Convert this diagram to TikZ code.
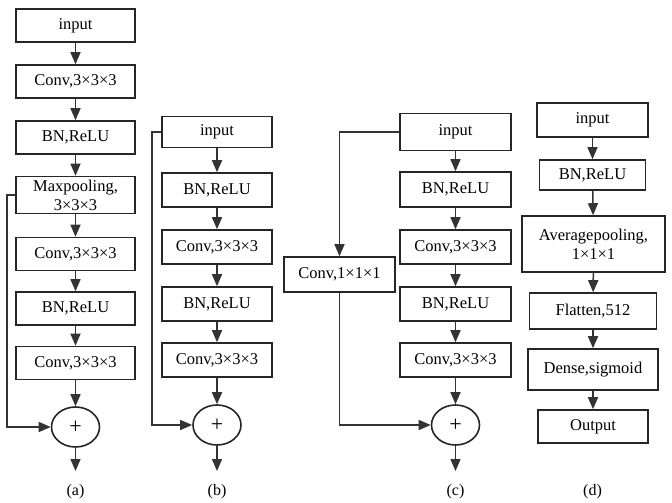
\documentclass[tikz,border=0pt]{standalone}
\usepackage{fontspec}
\setmainfont{Liberation Serif}
\usetikzlibrary{arrows.meta,shapes.geometric}
\begin{document}
\begin{tikzpicture}[x=1pt,y=-1pt,
  box/.style={draw=black!85, line width=1.6pt, inner sep=0pt, align=center,
    font=\fontsize{16.5}{19}\selectfont, minimum height=#1},
  box/.default=33pt,
  plus/.style={draw=black!85, line width=1.6pt, ellipse, inner sep=0pt,
    minimum width=48pt, minimum height=40pt, font=\fontsize{22}{24}\selectfont},
  arr/.style={draw=black!80, line width=1.5pt, -{Triangle[length=12pt,width=10pt]}},
  lab/.style={font=\fontsize{16}{18}\selectfont}]
\useasboundingbox (0,0) rectangle (672,503);
% ---------- (a)
\begin{scope}[every node/.append style={minimum width=119pt}]
\node[box] (ain) at (75.5,25.5) {input};
\node[box] (ac1) at (75.5,81.5) {Conv,3×3×3};
\node[box] (abn1) at (75.5,137.5) {BN,ReLU};
\node[box=37pt] (amp) at (75.5,195) {Maxpooling,\\3×3×3};
\node[box] (ac2) at (75.5,254) {Conv,3×3×3};
\node[box] (abn2) at (75.5,308.5) {BN,ReLU};
\node[box] (ac3) at (75.5,363) {Conv,3×3×3};
\end{scope}
\node[plus] (pa) at (75.5,427) {+};
\coordinate (oa) at (75.5,471);
\node[lab] (la) at (75.5,492) {(a)};
\draw[arr] (ain) -- (ac1);
\draw[arr] (ac1) -- (abn1);
\draw[arr] (abn1) -- (amp);
\draw[arr] (amp) -- (ac2);
\draw[arr] (ac2) -- (abn2);
\draw[arr] (abn2) -- (ac3);
\draw[arr] (ac3) -- (pa);
\draw[arr] (pa) -- (oa);
\draw[arr] (amp.west) -- ++(-8,0) |- (pa);
% ---------- (b)
\begin{scope}[every node/.append style={minimum width=110pt}]
\node[box=31pt] (bin) at (217,132) {input};
\node[box=34pt] (bbn1) at (217,190) {BN,ReLU};
\node[box=34pt] (bc1) at (217,247) {Conv,3×3×3};
\node[box=34pt] (bbn2) at (217,304) {BN,ReLU};
\node[box=34pt] (bc2) at (217,360) {Conv,3×3×3};
\end{scope}
\node[plus] (pb) at (217,425) {+};
\coordinate (ob) at (217,471);
\node[lab] (lb) at (217,492) {(b)};
\draw[arr] (bin) -- (bbn1);
\draw[arr] (bbn1) -- (bc1);
\draw[arr] (bc1) -- (bbn2);
\draw[arr] (bbn2) -- (bc2);
\draw[arr] (bc2) -- (pb);
\draw[arr] (pb) -- (ob);
\draw[arr] (bin.west) -- ++(-9,0) |- (pb);
% ---------- (c)
\begin{scope}[every node/.append style={minimum width=111pt}]
\node[box=37pt] (cin) at (455.5,132) {input};
\node[box=35pt] (cbn1) at (455.5,189.5) {BN,ReLU};
\node[box=34pt] (cc1) at (455.5,247) {Conv,3×3×3};
\node[box=34pt] (cbn2) at (455.5,304) {BN,ReLU};
\node[box=34pt] (cc2) at (455.5,360) {Conv,3×3×3};
\node[box=35pt] (cc0) at (339.5,274.5) {Conv,1×1×1};
\end{scope}
\node[plus] (pc) at (455.5,425) {+};
\coordinate (oc) at (455.5,471);
\node[lab] (lc) at (455.5,492) {(c)};
\draw[arr] (cin) -- (cbn1);
\draw[arr] (cbn1) -- (cc1);
\draw[arr] (cc1) -- (cbn2);
\draw[arr] (cbn2) -- (cc2);
\draw[arr] (cc2) -- (pc);
\draw[arr] (pc) -- (oc);
\draw[arr] (cin.west) -| (cc0);
\draw[arr] (cc0) |- (pc);
% ---------- (d)
\node[box=34pt, minimum width=111pt] (din) at (592.5,120) {input};
\node[box=30pt, minimum width=106pt] (dbn) at (592.5,175) {BN,ReLU};
\node[box=56pt, minimum width=143pt] (dap) at (593.5,244) {Averagepooling,\\1×1×1};
\node[box=36pt, minimum width=127pt] (dfl) at (593,311) {Flatten,512};
\node[box=41pt, minimum width=130pt] (dde) at (593,369.5) {Dense,sigmoid};
\node[box=33pt, minimum width=110pt] (dout) at (593,426.5) {Output};
\node[lab] (ld) at (592.5,492) {(d)};
\draw[arr] (din) -- (dbn);
\draw[arr] (dbn) -- (dap);
\draw[arr] (dap) -- (dfl);
\draw[arr] (dfl) -- (dde);
\draw[arr] (dde) -- (dout);
\end{tikzpicture}
\end{document}
